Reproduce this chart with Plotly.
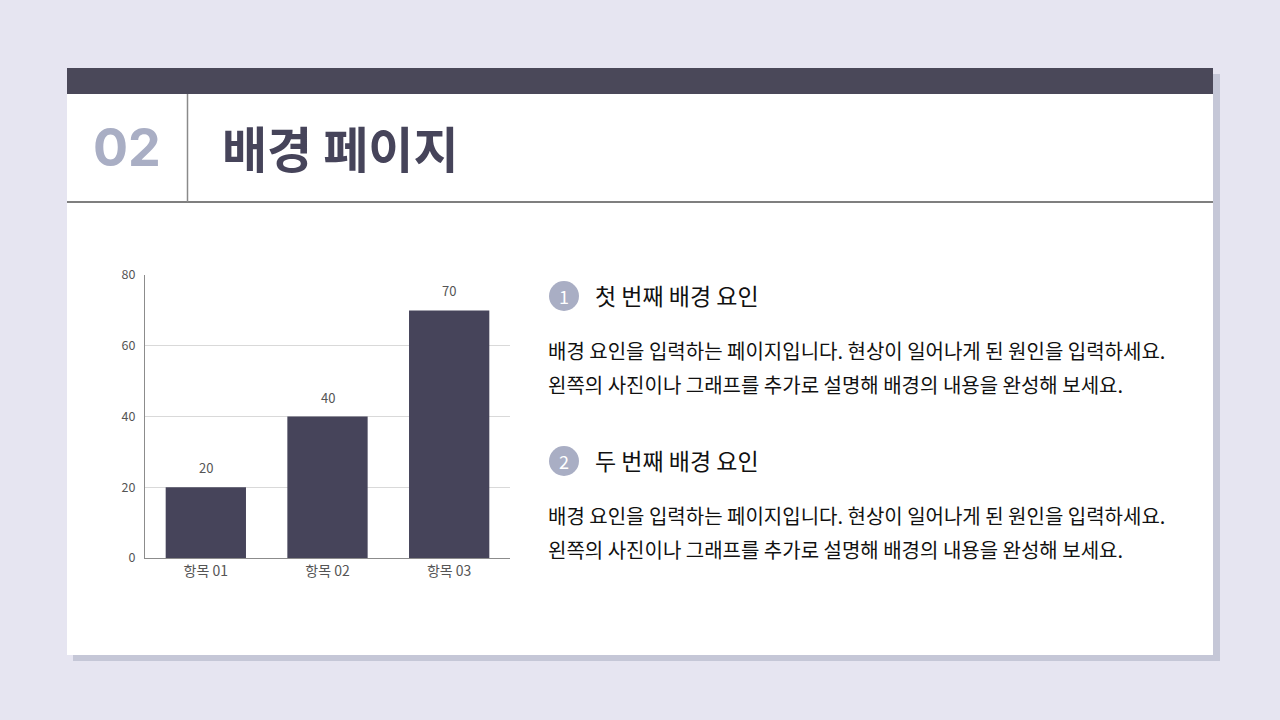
import plotly.graph_objects as go

# chart data
categories = ['항목 01', '항목 02', '항목 03']
values = [20, 40, 70]
y_ticks = [0, 20, 40, 60, 80]

# slide text
section_no = '02'
page_title = '배경 페이지'
headings = ['첫 번째 배경 요인', '두 번째 배경 요인']
body_lines = ['배경 요인을 입력하는 페이지입니다. 현상이 일어나게 된 원인을 입력하세요.',
              '왼쪽의 사진이나 그래프를 추가로 설명해 배경의 내용을 완성해 보세요.']

W, H = 1280, 720
BG = '#E6E5F1'
DARK = '#46445A'
ACCENT = '#A9AEC4'
FONT = 'Noto Sans CJK KR'


def px(x):
    return x / W


def py(y):
    return 1 - y / H


def rect(x0, y0, x1, y1, color):
    return dict(type='rect', xref='paper', yref='paper', layer='below',
                x0=px(x0), x1=px(x1), y0=py(y1), y1=py(y0),
                fillcolor=color, line=dict(width=0))


def text(s, x, y, size, color, anchor='left', family=FONT):
    return dict(text=s, x=px(x), y=py(y), xref='paper', yref='paper', showarrow=False,
                xanchor=anchor, yanchor='middle', font=dict(family=family, size=size, color=color))


fig = go.Figure()
fig.add_trace(go.Bar(x=categories, y=values, marker=dict(color=DARK, line=dict(width=0)),
                     hoverinfo='skip'))

shapes = [
    rect(73, 74, 1220, 661, '#C5C7D7'),       # shadow
    rect(67, 68, 1213, 655, '#FFFFFF'),       # card
    rect(67, 68, 1213, 94, '#4A4859'),        # header bar
    dict(type='line', xref='paper', yref='paper', layer='below',
         x0=px(67), x1=px(1213), y0=py(202), y1=py(202), line=dict(color='#555555', width=1.5)),
    dict(type='line', xref='paper', yref='paper', layer='below',
         x0=px(187.5), x1=px(187.5), y0=py(202), y1=py(94), line=dict(color='#8A8A8A', width=1.5)),
]

annotations = [
    text('<b>%s</b>' % section_no, 127, 148, 52, ACCENT, anchor='center', family='Inter'),
    text('<b>%s</b>' % page_title, 220, 147, 49, DARK),
]

# value labels above the bars
for c, v in zip(categories, values):
    annotations.append(dict(text=str(v), x=c, y=v, xref='x', yref='y', showarrow=False,
                            yanchor='bottom', yshift=8,
                            font=dict(family=FONT, size=13, color='#555555')))

block_y = [296, 461]
for i, (hy, head) in enumerate(zip(block_y, headings)):
    shapes.append(dict(type='circle', xref='paper', yref='paper', layer='below',
                       x0=px(549), x1=px(579), y0=py(hy + 15), y1=py(hy - 15),
                       fillcolor=ACCENT, line=dict(width=0)))
    annotations.append(text(str(i + 1), 564, hy, 18, '#FFFFFF', anchor='center'))
    annotations.append(text(head, 593, hy - 1, 23, '#111111'))
    for j, line in enumerate(body_lines):
        annotations.append(text(line, 546, hy + 54 + j * 34, 20, '#111111'))

fig.update_layout(
    width=W, height=H, margin=dict(l=0, r=0, t=0, b=0, autoexpand=False),
    paper_bgcolor=BG, plot_bgcolor='rgba(0,0,0,0)',
    showlegend=False, bargap=0.34,
    shapes=shapes, annotations=annotations,
    font=dict(family=FONT),
    xaxis=dict(domain=[px(145), px(510)], showline=True, linecolor='#8C8C8C', linewidth=1,
               automargin=False, ticks='', tickfont=dict(family=FONT, size=14, color='#555555'),
               showgrid=False),
    yaxis=dict(domain=[py(558), py(275)], range=[0, 80], tickvals=y_ticks, automargin=False,
               showline=True, linecolor='#8C8C8C', linewidth=1, showgrid=True,
               gridcolor='#D9D9D9', gridwidth=1, zeroline=False, ticks='', ticklabelstandoff=6,
               tickfont=dict(family=FONT, size=12.5, color='#555555')),
)

# page without the default body margin, so the slide sits at 0,0
post = "document.body.style.margin = '0'; document.body.style.background = '%s';" % BG

fig.write_html('out.html', post_script=post, config={'displayModeBar': False})
